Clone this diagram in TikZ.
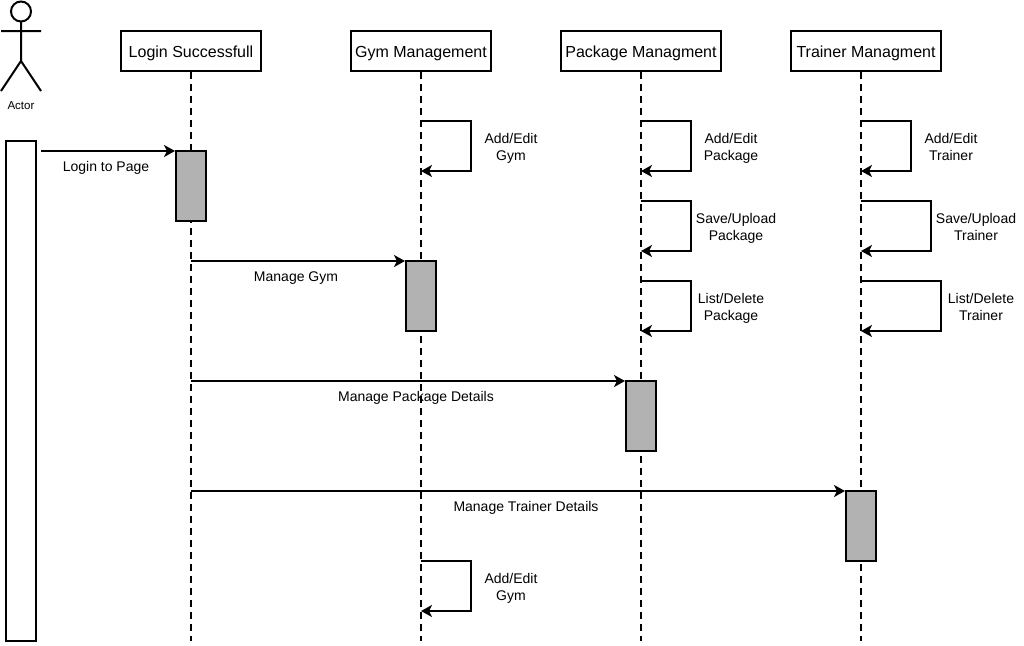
\documentclass[tikz,border=0pt]{standalone}
\usepackage{fontspec}
\setmainfont{Liberation Sans}
\usetikzlibrary{arrows.meta}
\tikzset{
  head/.style={draw,line width=2pt,minimum width=140pt,minimum height=40pt,inner sep=0pt,text height=14pt,text depth=1pt,font=\fontsize{16}{18}\selectfont},
  bar/.style={draw,line width=2pt,fill=black!30,minimum width=30pt,minimum height=70pt,inner sep=0pt},
  life/.style={line width=2pt,dash pattern=on 7pt off 5pt},
  msg/.style={line width=2pt,-{Stealth[length=11pt,width=12pt,inset=3pt]}},
  note/.style={font=\fontsize{14}{17}\selectfont,align=center,inner sep=0pt}
}
\begin{document}
\begin{tikzpicture}[x=1pt,y=-1pt]
\useasboundingbox (0,0) rectangle (1024,645);
% heads
\node[head] (login) at (191,51) {Login Successfull};
\node[head] (gym) at (421,51) {Gym Management};
\node[head,minimum width=160pt] (pack) at (641,51) {Package Managment};
\node[head,minimum width=150pt] (train) at (866,51) {Trainer Managment};
% lifelines
\coordinate (loginend) at (191,641);
\coordinate (gymend) at (421,641);
\coordinate (packend) at (641,641);
\coordinate (trainend) at (861,641);
\draw[life] (login) -- (loginend);
\draw[life] (gym) -- (gymend);
\draw[life] (pack) -- (packend);
\draw[life] (train.south-|trainend) -- (trainend);
% actor
\draw[line width=2pt] (21,11.5) circle (10pt);
\draw[line width=2pt] (21,21.5) -- (21,61) (1,31) -- (41,31) (21,61) -- (1,91) (21,61) -- (41,91);
\node[font=\fontsize{11.5}{13}\selectfont] (actor) at (21,106) {Actor};
\node[draw,line width=2pt,fill=white,minimum width=30pt,minimum height=500pt,inner sep=0pt] (actorbar) at (21,391) {};
% bars
\node[bar] (loginbar) at (191,186) {};
\node[bar] (gymbar) at (421,296) {};
\node[bar] (packbar) at (641,416) {};
\node[bar] (trainbar) at (861,526) {};
% messages
\coordinate (a0) at (41,151);
\coordinate (b1) at (191,261);
\coordinate (b2) at (191,381);
\coordinate (b3) at (191,491);
\draw[msg] (a0) -- (a0-|loginbar.west);
\draw[msg] (b1) -- (b1-|gymbar.west);
\draw[msg] (b2) -- (b2-|packbar.west);
\draw[msg] (b3) -- (b3-|trainbar.west);
\node[note] (m0) at (106,168.3) {\strut Login to Page};
\node[note] (m1) at (296,278.3) {\strut Manage Gym};
\node[note] (m2) at (416,398.3) {\strut Manage Package Details};
\node[note] (m3) at (526,508.3) {\strut Manage Trainer Details};
% self loops
\foreach \lx/\ty/\lw/\la/\lb/\tx in {421/121/50/Add\slash Edit/Gym/511,
  641/121/50/Add\slash Edit/Package/731, 641/201/50/Save\slash Upload/Package/736, 641/281/50/List\slash Delete/Package/731,
  861/121/50/Add\slash Edit/Trainer/951, 861/201/70/Save\slash Upload/Trainer/976, 861/281/80/List\slash Delete/Trainer/981,
  421/561/50/Add\slash Edit/Gym/511}{
  \draw[msg] (\lx,\ty) -- ++(\lw,0) -- ++(0,50) -- ++(-\lw,0);
  \node[note] at (\tx,\ty+27.3) {\strut\la\\\strut\lb};
}
\end{tikzpicture}
\end{document}
